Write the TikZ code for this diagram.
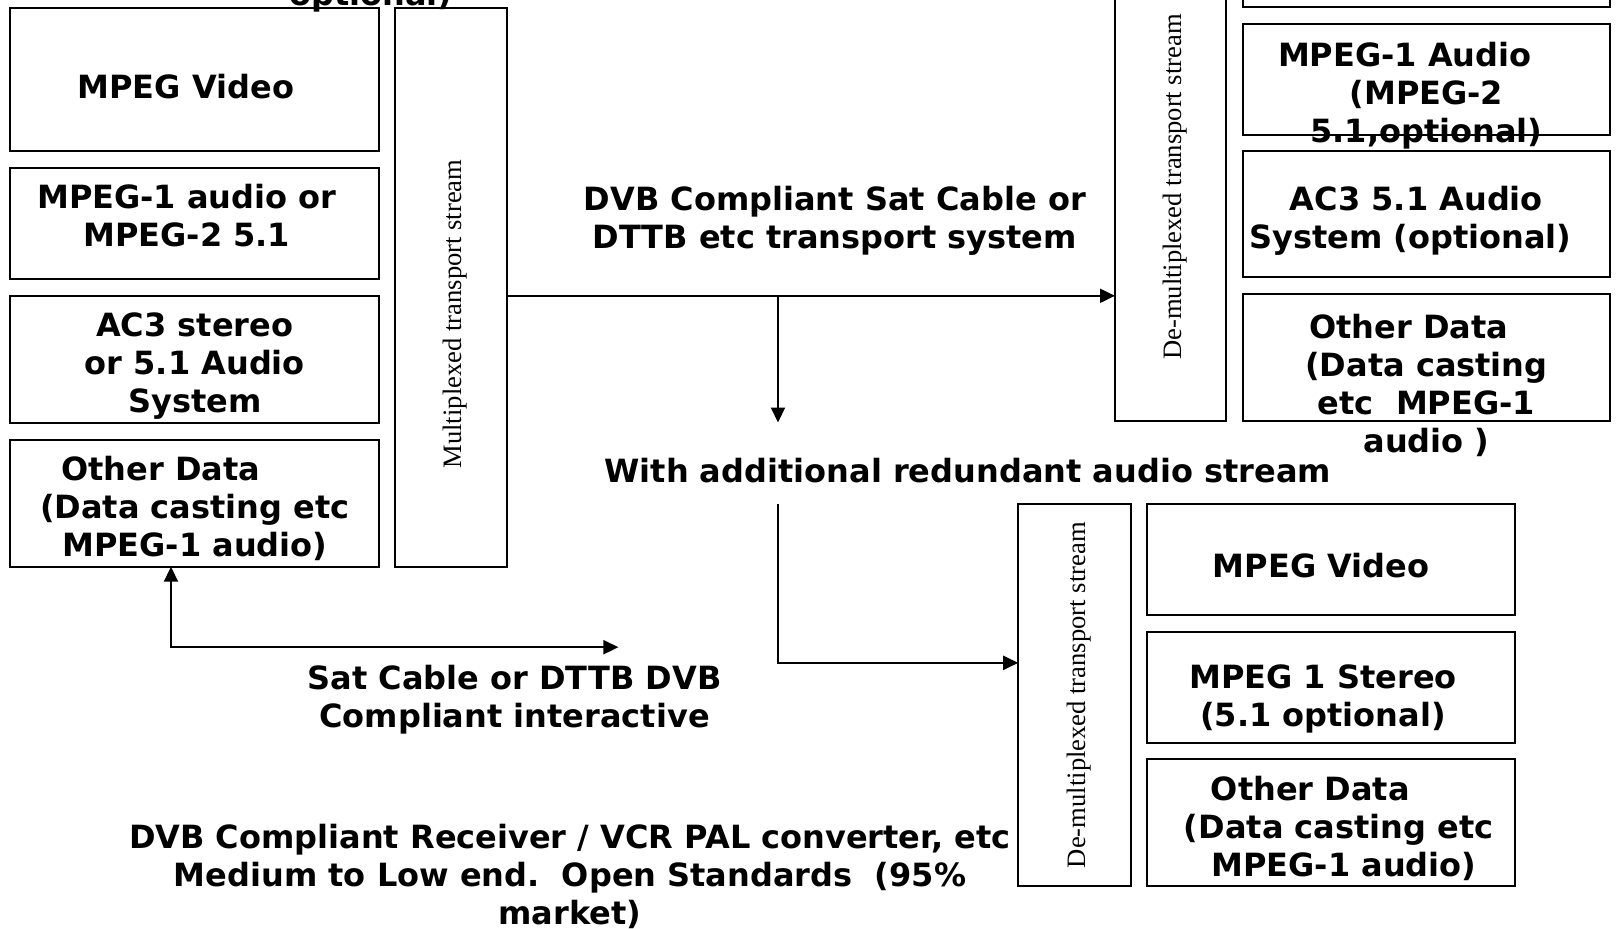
\documentclass[tikz,border=0pt]{standalone}
\usepackage{fontspec}
\setmainfont{DejaVu Sans}
\newfontfamily\serifT{Liberation Serif}
\usepackage{tikz}
\usetikzlibrary{arrows.meta,positioning,calc}
\newcommand\boxfont{\fontsize{16pt}{19pt}\selectfont\bfseries}

\begin{document}
\begin{tikzpicture}[x=0.5pt, y=-0.5pt,
  box/.style 2 args={rectangle, draw, line width=1pt, inner sep=0pt, outer sep=0pt,
    minimum width=184.5pt, align=center, font=\boxfont, text height=#1, text depth=#2},
  bar/.style={rectangle, draw, line width=1pt, inner sep=0pt, outer sep=0pt, minimum width=56pt},
  vtxt/.style={rotate=90, font=\serifT\fontsize{13.3pt}{15pt}\selectfont, inner sep=0pt},
  lbl/.style={align=center, font=\boxfont, inner sep=0pt},
  arr/.style={-{Triangle[length=7.5pt,width=7pt]}, line width=1pt},
  dbl/.style={{Triangle[length=7.5pt,width=7pt]}-{Triangle[length=7.5pt,width=7pt]}, line width=1pt}
]
\path[use as bounding box, clip] (0,0) rectangle (1616,928);

% encoder side
\node[box={45.2pt}{26.4pt}, anchor=north west] (lv) at (10.3,8.2) {MPEG Video\hspace*{9pt}};
\node[box={39.5pt}{16.1pt}, below=8.25pt of lv] (la) {MPEG-1 audio or\hspace*{8pt}\\MPEG-2 5.1\hspace*{8pt}};
\node[box={58.5pt}{5.4pt}, below=8.25pt of la] (lac) {AC3 stereo\\or 5.1 Audio\\System};
\node[box={58.5pt}{4.9pt}, below=8.25pt of lac] (lod) {Other Data\hspace*{34pt}\\(Data casting etc\hspace*{10pt}\\MPEG-1 audio)};
\node[bar, minimum height=279.3pt, anchor=north west] (mux) at ([xshift=7.7pt]lv.north east) {};
\node[vtxt] (muxT) at ($(mux.center)+(4.6,26.5)$) {Multiplexed transport stream};
\node[lbl, anchor=base] (optT) at (371,5) {optional)};

% first receiver
\node[box={0pt}{55.6pt}, minimum width=183.4pt, anchor=south west] (rt) at (1243,7.2) {};
\node[box={0pt}{55.6pt}, minimum width=183.4pt, below=8.25pt of rt] (ra) {};
\node[lbl, anchor=base] (raT) at ($(ra.north)+(0,119)$) {MPEG-1 Audio\hspace*{21.6pt}\\(MPEG-2\\5.1,optional)};
\node[box={48.7pt}{14.2pt}, minimum width=183.4pt, below=8.25pt of ra] (rac) {AC3 5.1 Audio\hspace*{10pt}\\System (optional)\hspace*{16pt}};
\node[box={0pt}{63.4pt}, minimum width=183.4pt, below=8.25pt of rac] (rod) {};
\node[lbl, anchor=base] (rodT) at ($(rod.north)+(0,159)$) {Other Data\hspace*{17.5pt}\\(Data casting\\etc\ \ MPEG-1\\audio )};
\node[bar, minimum width=55.7pt, minimum height=233.5pt, anchor=south east] (dm1) at ([xshift=-8.3pt]rod.south west) {};
\node[vtxt] (dm1T) at ($(dm1.center)+(4.5,0)$) {De-multiplexed transport stream};

% second receiver
\node[box={36.9pt}{18.7pt}, minimum width=184pt, anchor=north west] (bv) at (1147,504) {MPEG Video\hspace*{10pt}};
\node[box={47.2pt}{8.4pt}, minimum width=184pt, below=8.25pt of bv] (bs) {MPEG 1 Stereo\hspace*{8pt}\\(5.1 optional)\hspace*{8pt}};
\node[box={58.5pt}{4.9pt}, minimum width=184pt, below=8.25pt of bs] (bod) {Other Data\hspace*{20.6pt}\\\hspace*{7.7pt}(Data casting etc\\\hspace*{12.9pt}MPEG-1 audio)};
\node[bar, minimum width=56.2pt, minimum height=191.15pt, anchor=north east] (dm2) at ([xshift=-8.2pt]bv.north west) {};
\node[vtxt] (dm2T) at ($(dm2.center)+(4.6,0)$) {De-multiplexed transport stream};

% labels
\node[lbl] (dvbT) at (834.8,221) {DVB Compliant Sat Cable or\\DTTB etc transport system};
\node[lbl] (redT) at (967.7,471) {With additional redundant audio stream};
\node[lbl] (interT) at (514.5,700) {Sat Cable or DTTB DVB\\Compliant interactive};
\node[lbl] (rcvT) at (570,876) {DVB Compliant Receiver / VCR PAL converter, etc\\Medium to Low end.\ \ Open Standards\ \ (95\%\\market)};

\coordinate (split) at (778,295.8);
\coordinate (drop) at (778,422.5);
\coordinate (rise) at (778,504);
\coordinate (inter) at (618.4,647.2);

\draw[arr] (mux.east |- split) -- (dm1.west |- split);
\draw[arr] (split) -- (drop);
\draw[arr] (rise) |- ($(dm2.west)+(0,-32.3)$);
\draw[dbl] ([xshift=-11.9pt]lod.south) |- (inter);
\end{tikzpicture}
\end{document}
